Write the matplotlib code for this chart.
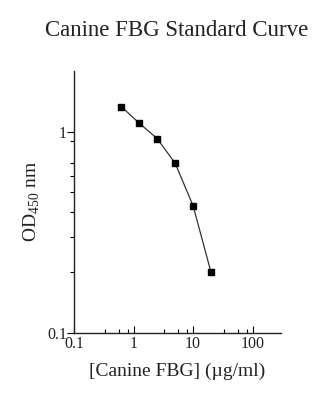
import matplotlib
matplotlib.use("Agg")
import matplotlib.pyplot as plt
from matplotlib.ticker import FixedLocator, NullFormatter

conc = [0.625, 1.25, 2.5, 5, 10, 20]
od = [1.33, 1.10, 0.923, 0.696, 0.428, 0.20]
xticks = [0.1, 1, 10, 100]
xticklabels = ["0.1", "1", "10", "100"]
yticks = [0.1, 1]
yticklabels = ["0.1", "1"]

plt.rcParams['font.family'] = ['Liberation Serif', 'DejaVu Serif']
plt.rcParams['mathtext.fontset'] = 'custom'
plt.rcParams['mathtext.rm'] = 'Liberation Serif'

fig = plt.figure(figsize=(3.28, 4.0), dpi=100)
ax = fig.add_axes([0.2256, 0.1675, 0.857 - 0.2256, 0.8225 - 0.1675])
ax.plot(conc, od, color='#333333', lw=0.9, marker='s', ms=4, mfc='black', mec='black')
ax.set_xscale('log')
ax.set_yscale('log')
ax.set_xlim(0.1, 300)
ax.set_ylim(0.1, 2.0)
for s in ['top', 'right']:
    ax.spines[s].set_visible(False)
for s in ['left', 'bottom']:
    ax.spines[s].set_linewidth(1.0)
    ax.spines[s].set_color('#222222')

ax.xaxis.set_major_locator(FixedLocator(xticks))
ax.set_xticklabels(xticklabels)
ax.xaxis.set_minor_locator(FixedLocator([0.33, 0.56, 0.8, 3.3, 5.6, 8, 33, 56, 80]))
ax.xaxis.set_minor_formatter(NullFormatter())
ax.yaxis.set_major_locator(FixedLocator(yticks))
ax.set_yticklabels(yticklabels)
ax.yaxis.set_minor_locator(FixedLocator([0.2, 0.3, 0.4, 0.5, 0.6, 0.7, 0.9]))
ax.yaxis.set_minor_formatter(NullFormatter())

ax.tick_params(axis='x', which='major', direction='in', length=5, width=0.8, labelsize=11.5, pad=2, labelcolor='#222222')
ax.tick_params(axis='x', which='minor', direction='in', length=3, width=0.8)
ax.tick_params(axis='y', which='major', direction='out', length=5, width=0.8, labelsize=11.5, pad=0, labelcolor='#222222')
ax.tick_params(axis='y', which='minor', direction='out', length=3, width=0.8)

ax.set_xlabel("[Canine FBG] (\u00b5g/ml)", fontsize=14, labelpad=8, color='#222222')
ax.set_ylabel("OD$_{450}$ nm", fontsize=14, labelpad=4, color='#222222')
fig.text(0.54, 0.925, "Canine FBG Standard Curve", ha='center', va='center', fontsize=16.5, color='#222222')

fig.savefig("out.png", dpi=100, facecolor='white')
